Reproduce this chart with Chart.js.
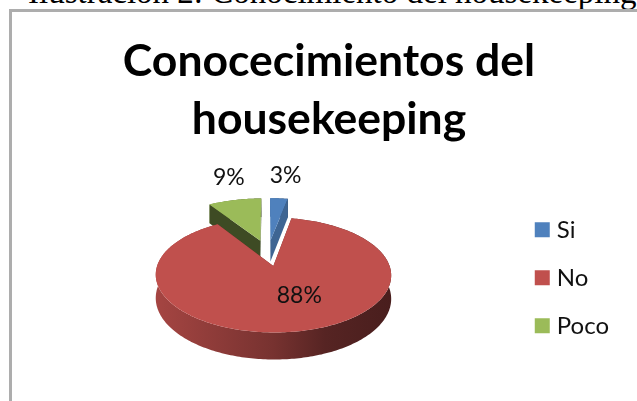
<!DOCTYPE html>
<html>
<head>
<meta charset="utf-8">
<title>Conocecimientos del housekeeping</title>
<script src="https://cdn.jsdelivr.net/npm/chart.js@4"></script>
<style>
  html, body { margin: 0; width: 637px; height: 401px; overflow: hidden; background: #fff; }
  #caption {
    position: absolute; left: 28px; top: -26.5px; white-space: nowrap;
    font: 33px "Liberation Serif", serif; color: #000;
  }
  #frame {
    position: absolute; left: 9px; top: 9px; width: 640px; height: 400px;
    border-left: 3px solid #adadad; border-top: 3px solid #adadad;
  }
  #wrap { position: absolute; left: 0; top: 0; width: 637px; height: 401px; }
</style>
</head>
<body>
<div id="caption">Ilustración 2: Conocimiento del housekeeping</div>
<div id="frame"></div>
<div id="wrap"><canvas id="chart" width="637" height="401"></canvas></div>
<script>
const categories = ["Si", "No", "Poco"];
const percents = [3, 88, 9];
const sliceColors = ["#4f81bd", "#c0504d", "#9bbb59"];
const wallShades = [0.78, 0.6, 0.4];

// back slices first so the big red one sits on top of them
const drawOrder = [2, 0, 1];

// tilt and perspective of the fake 3D disc
const squash = 0.464;
const perspective = 0.15;
const depth = 22;
const explode = 28;
const shiftX = -9.5;
const shiftY = -25;

// where each % label sits along its slice, and a small nudge
const labelReach = [1.66, 0.49, 1.67];
const labelNudge = [2, 14, 8];

function shade(hex, f) {
  const n = parseInt(hex.slice(1), 16);
  const c = [(n >> 16) & 255, (n >> 8) & 255, n & 255].map((v) => Math.round(v * f));
  return `rgb(${c[0]},${c[1]},${c[2]})`;
}

const pie3d = {
  id: "pie3d",
  beforeDatasetsDraw(chart) {
    const { ctx } = chart;
    const arcs = chart.getDatasetMeta(0).data;
    const R = arcs[0].outerRadius;
    const ox = arcs[0].x + shiftX;
    const oy = arcs[0].y + shiftY;

    // disc coordinates (radius = 1) to screen, drop = height below the top face
    const project = (u, v, drop = 0) => {
      const w = 1 - perspective * v;
      return [ox + (R * u) / w, oy + (R * squash * v + drop) / w];
    };

    const trace = (pts) => {
      ctx.beginPath();
      pts.forEach((p, i) => (i ? ctx.lineTo(p[0], p[1]) : ctx.moveTo(p[0], p[1])));
      ctx.closePath();
    };

    drawOrder.forEach((i) => {
      const arc = arcs[i];
      const color = sliceColors[i];
      const mid = (arc.startAngle + arc.endAngle) / 2;
      const off = explode / R;
      const cu = Math.cos(mid) * off;
      const cv = Math.sin(mid) * off;

      const rim = [];
      const steps = Math.ceil(((arc.endAngle - arc.startAngle) * 180) / Math.PI);
      for (let s = 0; s <= steps; s++) {
        const a = arc.startAngle + ((arc.endAngle - arc.startAngle) * s) / steps;
        rim.push([cu + Math.cos(a), cv + Math.sin(a)]);
      }
      const top = rim.map((p) => project(p[0], p[1]));
      const low = rim.map((p) => project(p[0], p[1], depth));
      const apexTop = project(cu, cv);
      const apexLow = project(cu, cv, depth);

      // outer curved wall, darker towards the right
      const xs = top.map((p) => p[0]);
      const grad = ctx.createLinearGradient(Math.min(...xs), 0, Math.max(...xs), 0);
      grad.addColorStop(0, shade(color, 0.86));
      grad.addColorStop(0.5, shade(color, 0.62));
      grad.addColorStop(0.72, shade(color, 0.45));
      grad.addColorStop(1, shade(color, 0.38));
      ctx.fillStyle = grad;
      trace([...top, ...low.slice().reverse()]);
      ctx.fill();

      // cut faces
      ctx.fillStyle = shade(color, wallShades[i]);
      [[top[0], low[0]], [top[steps], low[steps]]].forEach(([t, l]) => {
        trace([apexTop, t, l, apexLow]);
        ctx.fill();
      });

      // top face
      ctx.fillStyle = color;
      trace([apexTop, ...top]);
      ctx.fill();
    });

    // value labels
    ctx.font = "23px Lato";
    ctx.fillStyle = "#111";
    ctx.textAlign = "center";
    ctx.textBaseline = "middle";
    arcs.forEach((arc, i) => {
      const mid = (arc.startAngle + arc.endAngle) / 2;
      const r = explode / R + labelReach[i];
      const p = project(Math.cos(mid) * r, Math.sin(mid) * r);
      ctx.fillText(percents[i] + "%", p[0] + labelNudge[i], p[1]);
    });

    return false;
  },
};

new Chart(document.getElementById("chart"), {
  type: "pie",
  data: {
    labels: categories,
    datasets: [{ data: percents, backgroundColor: sliceColors, borderWidth: 0 }],
  },
  options: {
    responsive: false,
    animation: false,
    radius: 112,
    layout: { padding: { left: 39, right: 18, top: 0, bottom: 0 } },
    plugins: {
      tooltip: { enabled: false },
      title: {
        display: true,
        text: ["Conocecimientos del", "housekeeping"],
        color: "#000",
        font: { family: "Lato", size: 44.5, weight: "bold", lineHeight: 1.3 },
        padding: { top: 33, bottom: 6 },
      },
      legend: {
        position: "right",
        fullSize: false,
        labels: {
          usePointStyle: true,
          pointStyle: "rect",
          boxWidth: 5,
          boxHeight: 15,
          padding: 24,
          color: "#111",
          font: { family: "Lato", size: 24 },
        },
      },
    },
  },
  plugins: [pie3d],
});
</script>
</body>
</html>
